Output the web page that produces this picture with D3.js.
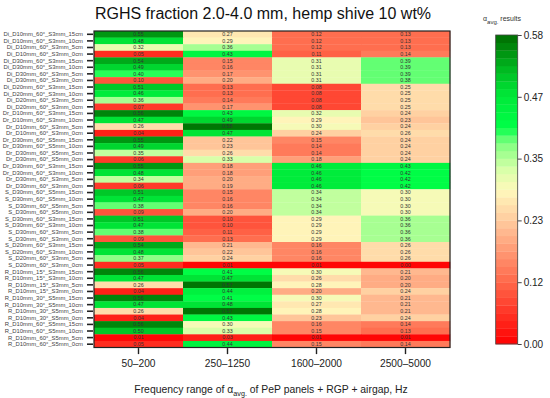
<!DOCTYPE html>
<html>
<head>
<meta charset="utf-8">
<script src="https://cdn.jsdelivr.net/npm/d3@7"></script>
<style>
  body { margin: 0; background: #fff; }
  svg { font-family: "Liberation Sans", Arial, sans-serif; }
</style>
</head>
<body>
<div id="chart"></div>
<script>
// ===== DATA =====
const rowLabels = [
  "Di_D10mm_60°_S3mm_15cm", "Di_D10mm_60°_S3mm_10cm", "Di_D10mm_60°_S3mm_5cm", "Di_D10mm_60°_S3mm_0cm",
  "Di_D30mm_60°_S3mm_15cm", "Di_D30mm_60°_S3mm_10cm", "Di_D30mm_60°_S3mm_5cm", "Di_D30mm_60°_S3mm_0cm",
  "Di_D20mm_60°_S3mm_15cm", "Di_D20mm_60°_S3mm_10cm", "Di_D20mm_60°_S3mm_5cm", "Di_D20mm_60°_S3mm_0cm",
  "Dr_D10mm_60°_S3mm_15cm", "Dr_D10mm_60°_S3mm_10cm", "Dr_D10mm_60°_S3mm_5cm", "Dr_D10mm_60°_S3mm_0cm",
  "Dr_D30mm_60°_S5mm_15cm", "Dr_D30mm_60°_S5mm_10cm", "Dr_D30mm_60°_S5mm_5cm", "Dr_D30mm_60°_S5mm_0cm",
  "Dr_D30mm_60°_S3mm_15cm", "Dr_D30mm_60°_S3mm_10cm", "Dr_D30mm_60°_S3mm_5cm", "Dr_D30mm_60°_S3mm_0cm",
  "S_D30mm_60°_S5mm_15cm", "S_D30mm_60°_S5mm_10cm", "S_D30mm_60°_S5mm_5cm", "S_D30mm_60°_S5mm_0cm",
  "S_D30mm_60°_S3mm_15cm", "S_D30mm_60°_S3mm_10cm", "S_D30mm_60°_S3mm_5cm", "S_D30mm_60°_S3mm_0cm",
  "S_D20mm_60°_S3mm_15cm", "S_D20mm_60°_S3mm_10cm", "S_D20mm_60°_S3mm_5cm", "S_D20mm_60°_S3mm_0cm",
  "R_D10mm_15°_S3mm_15cm", "R_D10mm_15°_S3mm_10cm", "R_D10mm_15°_S3mm_5cm", "R_D10mm_15°_S3mm_0cm",
  "R_D10mm_30°_S5mm_15cm", "R_D10mm_30°_S5mm_10cm", "R_D10mm_30°_S5mm_5cm", "R_D10mm_30°_S5mm_0cm",
  "R_D10mm_60°_S5mm_15cm", "R_D10mm_60°_S5mm_10cm", "R_D10mm_60°_S5mm_5cm", "R_D10mm_60°_S5mm_0cm"
];

const freqBands = ["50–200", "250–1250", "1600–2000", "2500–5000"];

const band50_200 = [
  0.55, 0.48, 0.32, 0.05, 0.54, 0.49, 0.40, 0.10, 0.51, 0.46, 0.36, 0.07,
  0.56, 0.47, 0.26, 0.04, 0.55, 0.49, 0.35, 0.06, 0.55, 0.48, 0.34, 0.06,
  0.51, 0.47, 0.38, 0.09, 0.51, 0.47, 0.38, 0.09, 0.54, 0.48, 0.37, 0.05,
  0.56, 0.47, 0.26, 0.04, 0.56, 0.47, 0.26, 0.04, 0.56, 0.50, 0.01, 0.05
];
const band250_1250 = [
  0.27, 0.29, 0.36, 0.43, 0.15, 0.16, 0.17, 0.20, 0.13, 0.13, 0.14, 0.17,
  0.43, 0.49, 0.58, 0.47, 0.22, 0.23, 0.26, 0.33, 0.18, 0.18, 0.20, 0.19,
  0.15, 0.16, 0.16, 0.20, 0.10, 0.10, 0.11, 0.13, 0.21, 0.22, 0.24, 0.01,
  0.41, 0.47, 0.57, 0.44, 0.41, 0.48, 0.57, 0.43, 0.30, 0.33, 0.03, 0.44
];
const band1600_2000 = [
  0.12, 0.12, 0.12, 0.11, 0.31, 0.31, 0.31, 0.31, 0.08, 0.08, 0.08, 0.08,
  0.32, 0.29, 0.30, 0.24, 0.15, 0.14, 0.14, 0.18, 0.46, 0.46, 0.46, 0.46,
  0.34, 0.34, 0.34, 0.34, 0.29, 0.29, 0.29, 0.29, 0.16, 0.16, 0.16, 0.01,
  0.30, 0.26, 0.28, 0.20, 0.30, 0.27, 0.28, 0.23, 0.16, 0.15, 0.01, 0.15
];
const band2500_5000 = [
  0.13, 0.13, 0.13, 0.14, 0.39, 0.39, 0.39, 0.38, 0.25, 0.25, 0.25, 0.25,
  0.24, 0.23, 0.24, 0.26, 0.24, 0.24, 0.24, 0.24, 0.43, 0.42, 0.42, 0.42,
  0.30, 0.30, 0.30, 0.30, 0.36, 0.36, 0.36, 0.36, 0.26, 0.26, 0.26, 0.00,
  0.21, 0.20, 0.20, 0.24, 0.21, 0.21, 0.21, 0.24, 0.14, 0.13, 0.01, 0.14
];

const legendTicks = [0, 0.1168, 0.2336, 0.3504, 0.4672, 0.584];
const legendTickLabels = ["0.00", "0.12", "0.23", "0.35", "0.47", "0.58"];

// ===== COLOURS =====
// red -> peach -> pale yellow -> light green -> bright green -> dark green, cut into steps
const colorMax = 0.584;
const nLevels = 40;
const colorStops = [0, 0.12, 0.23, 0.29, 0.33, 0.38, 0.41, 0.47, 0.52, 0.584];
const colorRange = ["#ff0000", "#ff6a4c", "#ffc89c", "#fff8bc", "#d8ffa8", "#80ff80",
                    "#00ff48", "#00e838", "#00b820", "#006c00"];
const smooth = d3.scaleLinear().domain(colorStops).range(colorRange).clamp(true);
const step = colorMax / nLevels;
function getColor(v) {
  const lvl = Math.min(nLevels - 1, Math.floor(v / step));
  return smooth((lvl + 0.5) * step);
}

// ===== LAYOUT =====
const W = 550, H = 398;
const plot = { left: 94, top: 31, width: 356, height: 316.5 };

const svg = d3.select("#chart").append("svg")
  .attr("width", W).attr("height", H);

// Title
svg.append("text")
  .attr("x", 263).attr("y", 19)
  .attr("text-anchor", "middle")
  .attr("font-size", 16)
  .attr("fill", "#111")
  .text("RGHS fraction 2.0-4.0 mm, hemp shive 10 wt%");

const x = d3.scaleBand().domain(freqBands).range([plot.left, plot.left + plot.width]);
const y = d3.scaleBand().domain(rowLabels).range([plot.top, plot.top + plot.height]);

const columns = [band50_200, band250_1250, band1600_2000, band2500_5000];
const cells = [];
rowLabels.forEach((r, i) => {
  freqBands.forEach((f, j) => {
    cells.push({ row: r, band: f, value: columns[j][i] });
  });
});

const g = svg.append("g");
g.selectAll("rect.cell")
  .data(cells)
  .enter()
  .append("rect")
  .attr("class", "cell")
  .attr("x", d => x(d.band))
  .attr("y", d => y(d.row))
  .attr("width", x.bandwidth() + 0.3)
  .attr("height", y.bandwidth() + 0.3)
  .attr("fill", d => getColor(d.value));

g.selectAll("text.val")
  .data(cells)
  .enter()
  .append("text")
  .attr("class", "val")
  .attr("x", d => x(d.band) + x.bandwidth() / 2)
  .attr("y", d => y(d.row) + y.bandwidth() / 2)
  .attr("dy", "0.35em")
  .attr("text-anchor", "middle")
  .attr("font-size", 5.3)
  .attr("fill", "#333")
  .text(d => d.value.toFixed(2));

// frame
svg.append("rect")
  .attr("x", plot.left).attr("y", plot.top)
  .attr("width", plot.width).attr("height", plot.height)
  .attr("fill", "none").attr("stroke", "#222").attr("stroke-width", 1.2);

// Left axis
const yAxis = svg.append("g")
  .attr("transform", `translate(${plot.left - 1},0)`)
  .call(d3.axisLeft(y).tickSize(6).tickPadding(4));
yAxis.select(".domain").remove();
yAxis.selectAll(".tick line").attr("stroke", "#222").attr("stroke-width", 1.6);
yAxis.selectAll(".tick text")
  .attr("font-size", 5.9)
  .attr("font-family", "Liberation Sans, Arial, sans-serif")
  .attr("fill", "#444");

// Bottom axis
const xAxis = svg.append("g")
  .attr("transform", `translate(0,${plot.top + plot.height + 0.6})`)
  .call(d3.axisBottom(x).tickSize(6).tickPadding(6));
xAxis.select(".domain").remove();
xAxis.selectAll(".tick line").attr("stroke", "#222").attr("stroke-width", 1.4);
xAxis.selectAll(".tick text")
  .attr("font-size", 10.2)
  .attr("font-family", "Liberation Sans, Arial, sans-serif")
  .attr("fill", "#222");

// X title
const xt = svg.append("text")
  .attr("x", 271).attr("y", 393)
  .attr("text-anchor", "middle")
  .attr("font-size", 10.4)
  .attr("fill", "#222");
xt.append("tspan").text("Frequency range of α");
xt.append("tspan").attr("font-size", 7.2).attr("dy", 3).text("avg.");
xt.append("tspan").attr("dy", -3).text(" of PeP panels + RGP + airgap, Hz");

// ===== COLOUR LEGEND =====
const leg = { x: 495.7, y: 35, width: 22, height: 309 };
const ly = d3.scaleLinear().domain([0, colorMax]).range([leg.y + leg.height, leg.y]);

svg.append("g").selectAll("rect")
  .data(d3.range(nLevels))
  .enter()
  .append("rect")
  .attr("x", leg.x)
  .attr("y", i => ly((i + 1) * step))
  .attr("width", leg.width)
  .attr("height", i => ly(i * step) - ly((i + 1) * step) + 0.3)
  .attr("fill", i => getColor((i + 0.5) * step));

svg.append("rect")
  .attr("x", leg.x).attr("y", leg.y)
  .attr("width", leg.width).attr("height", leg.height)
  .attr("fill", "none").attr("stroke", "#444").attr("stroke-width", 0.8);

const legAxis = svg.append("g")
  .attr("transform", `translate(${leg.x + leg.width},0)`)
  .call(d3.axisRight(ly).tickValues(legendTicks)
    .tickFormat((d, i) => legendTickLabels[i]).tickSize(4).tickPadding(2));
legAxis.select(".domain").remove();
legAxis.selectAll(".tick line").attr("stroke", "#444");
legAxis.selectAll(".tick text")
  .attr("font-size", 10)
  .attr("font-family", "Liberation Sans, Arial, sans-serif")
  .attr("fill", "#222");

const lt = svg.append("text")
  .attr("x", 483).attr("y", 21)
  .attr("font-size", 7)
  .attr("fill", "#333");
lt.append("tspan").text("α");
lt.append("tspan").attr("font-size", 6).attr("dy", 2.5).text("avg.");
lt.append("tspan").attr("dy", -2.5).text(" results");
</script>
</body>
</html>
